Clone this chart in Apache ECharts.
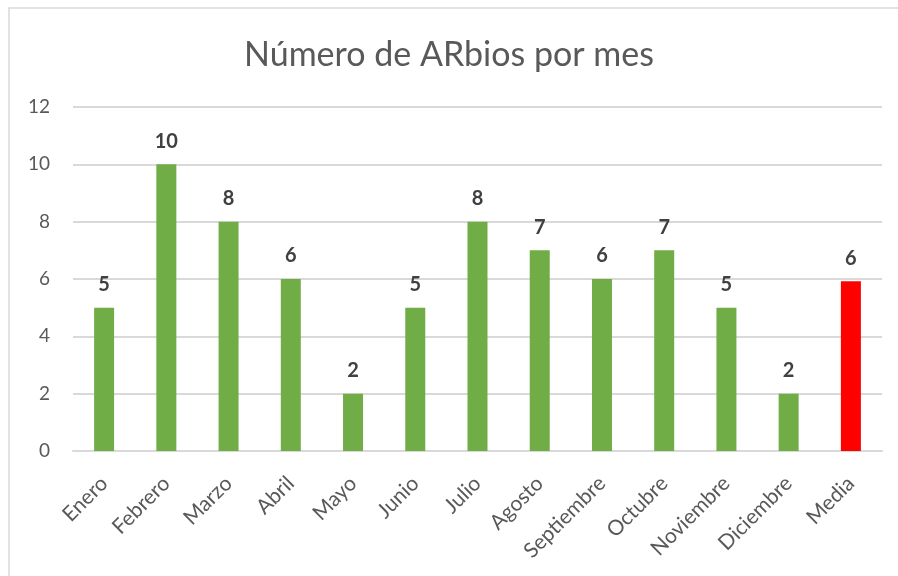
<!DOCTYPE html>
<html>
<head>
<meta charset="utf-8">
<script src="https://cdn.jsdelivr.net/npm/echarts@6/dist/echarts.min.js"></script>
<style>
    html, body { margin: 0; padding: 0; background: #fff; }
    #chart { width: 898px; height: 576px; }
</style>
</head>
<body>
<div id="chart"></div>
<script>
    var meses = ['Enero', 'Febrero', 'Marzo', 'Abril', 'Mayo', 'Junio', 'Julio', 'Agosto',
        'Septiembre', 'Octubre', 'Noviembre', 'Diciembre', 'Media'];
    var arbios = [5, 10, 8, 6, 2, 5, 8, 7, 6, 7, 5, 2, 5.92];
    var colores = ['#70AD47', '#70AD47', '#70AD47', '#70AD47', '#70AD47', '#70AD47', '#70AD47',
        '#70AD47', '#70AD47', '#70AD47', '#70AD47', '#70AD47', '#FF0000'];

    var fuente = 'Lato, "Open Sans", sans-serif';
    var myChart = echarts.init(document.getElementById('chart'));

    var option = {
        animation: false,
        title: {
            text: 'Número de ARbios por mes',
            left: 'center',
            top: 33,
            textStyle: { fontFamily: fuente, fontSize: 34, fontWeight: 'normal', color: '#595959' }
        },
        graphic: [{
            type: 'rect',
            shape: { x: 9, y: 8, width: 900, height: 600 },
            style: { fill: 'none', stroke: '#d9d9d9', lineWidth: 1.5 },
            silent: true
        }],
        grid: { left: 73, right: 16, top: 107, bottom: 125 },
        xAxis: {
            type: 'category',
            data: meses,
            axisTick: { show: false },
            axisLine: { lineStyle: { color: '#d9d9d9', width: 2 } },
            axisLabel: {
                rotate: 45,
                margin: 29,
                color: '#595959',
                fontFamily: fuente,
                fontSize: 21
            }
        },
        yAxis: {
            type: 'value',
            min: 0,
            max: 12,
            interval: 2,
            axisLine: { show: false },
            axisTick: { show: false },
            splitLine: { lineStyle: { color: '#d9d9d9', width: 2 } },
            axisLabel: { color: '#595959', fontFamily: fuente, fontSize: 19, margin: 23 }
        },
        series: [{
            type: 'bar',
            barWidth: 20,
            data: arbios.map(function (v, i) {
                return { value: v, itemStyle: { color: colores[i] } };
            }),
            label: {
                show: true,
                position: 'top',
                distance: 13,
                fontFamily: fuente,
                fontSize: 20,
                fontWeight: 'bold',
                color: '#404040',
                formatter: function (p) { return Math.round(p.value); }
            }
        }]
    };
    option && myChart.setOption(option);
</script>
</body>
</html>
